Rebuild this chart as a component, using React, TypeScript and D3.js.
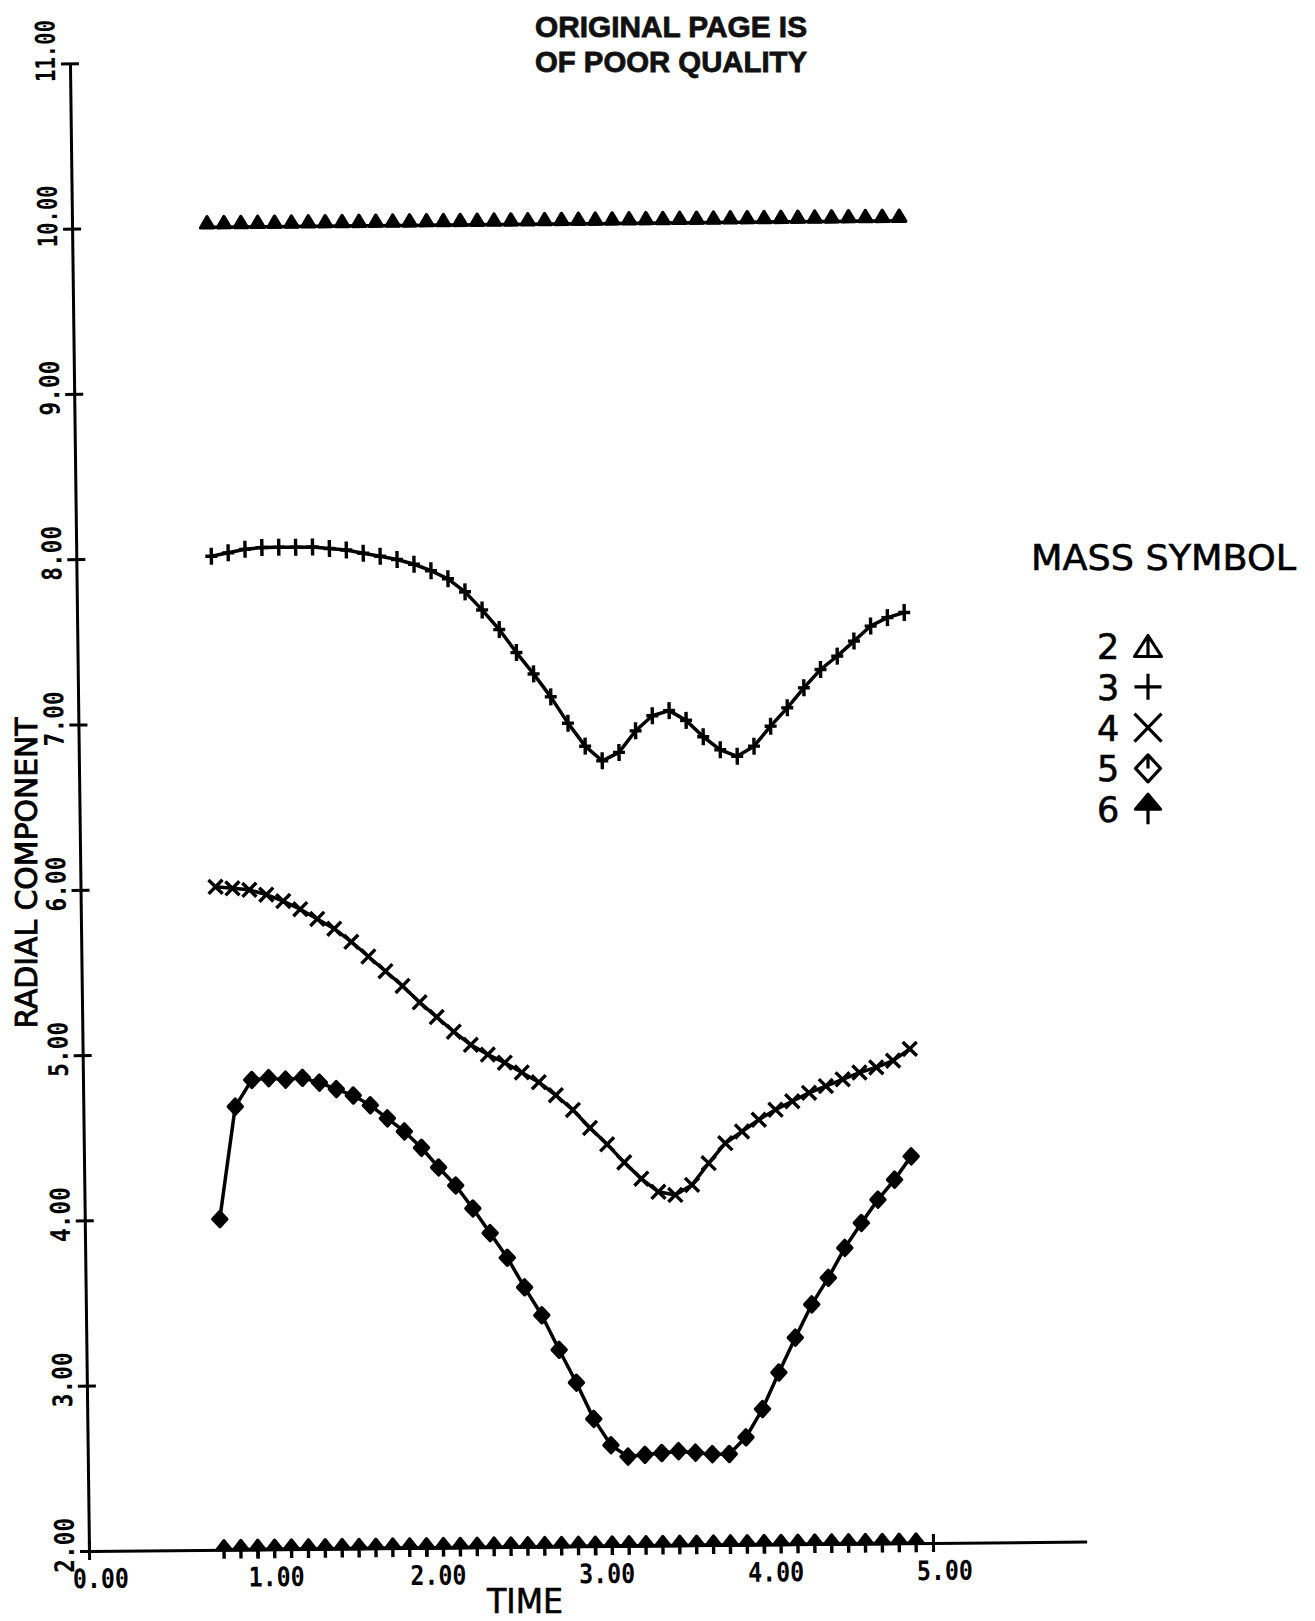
import { useEffect, useRef } from "react";
import * as d3 from "d3";

// sample times (same for every mass)
const times = [
  0.8, 0.9, 1.0, 1.1, 1.2, 1.3, 1.4, 1.5, 1.6, 1.7, 1.8, 1.9, 2.0, 2.1,
  2.2, 2.3, 2.4, 2.5, 2.6, 2.7, 2.8, 2.9, 3.0, 3.1, 3.2, 3.3, 3.4, 3.5,
  3.6, 3.7, 3.8, 3.9, 4.0, 4.1, 4.2, 4.3, 4.4, 4.5, 4.6, 4.7, 4.8, 4.9,
];

// radial component per mass
const mass2 = [
  10.0, 10.0, 10.0, 10.0, 10.0, 10.0, 10.0, 10.0, 10.0, 10.0, 10.0, 10.0, 10.0, 10.0,
  10.0, 10.0, 10.0, 10.0, 10.0, 10.0, 10.0, 10.0, 10.0, 10.0, 10.0, 10.0, 10.0, 10.0,
  10.0, 10.0, 10.0, 10.0, 10.0, 10.0, 10.0, 10.0, 10.0, 10.0, 10.0, 10.0, 10.0, 10.0,
];
const mass3 = [
  8.01, 8.03, 8.05, 8.06, 8.06, 8.06, 8.06, 8.05, 8.04, 8.02, 8.0, 7.98, 7.95, 7.91,
  7.86, 7.78, 7.67, 7.55, 7.41, 7.28, 7.14, 6.98, 6.84, 6.75, 6.8, 6.93, 7.02, 7.05,
  6.99, 6.89, 6.81, 6.77, 6.83, 6.95, 7.06, 7.18, 7.29, 7.37, 7.46, 7.55, 7.6, 7.63,
];
const mass4 = [
  6.01, 6.0, 5.99, 5.96, 5.92, 5.87, 5.81, 5.75, 5.67, 5.58, 5.49, 5.4, 5.3, 5.21,
  5.12, 5.04, 4.98, 4.93, 4.87, 4.81, 4.73, 4.64, 4.53, 4.43, 4.32, 4.22, 4.14, 4.12,
  4.18, 4.31, 4.43, 4.5, 4.57, 4.63, 4.68, 4.73, 4.77, 4.81, 4.85, 4.88, 4.92, 4.99,
];
const mass5 = [
  4.0, 4.68, 4.84, 4.85, 4.84, 4.85, 4.82, 4.78, 4.74, 4.68, 4.6, 4.52, 4.42, 4.3,
  4.19, 4.05, 3.9, 3.75, 3.57, 3.4, 3.19, 2.99, 2.77, 2.61, 2.54, 2.55, 2.56, 2.57,
  2.56, 2.55, 2.55, 2.65, 2.82, 3.04, 3.25, 3.45, 3.61, 3.79, 3.94, 4.08, 4.2, 4.34,
];
const mass6 = [
  2.0, 2.0, 2.0, 2.0, 2.0, 2.0, 2.0, 2.0, 2.0, 2.0, 2.0, 2.0, 2.0, 2.0,
  2.0, 2.0, 2.0, 2.0, 2.0, 2.0, 2.0, 2.0, 2.0, 2.0, 2.0, 2.0, 2.0, 2.0,
  2.0, 2.0, 2.0, 2.0, 2.0, 2.0, 2.0, 2.0, 2.0, 2.0, 2.0, 2.0, 2.0, 2.0,
];

const masses = ["2", "3", "4", "5", "6"];
const symbols = ["tri", "plus", "cross", "diamond", "arrow"];
const xTicks = [0, 1, 2, 3, 4, 5];
const yTicks = [2, 3, 4, 5, 6, 7, 8, 9, 10, 11];
const stamp = ["ORIGINAL PAGE IS", "OF POOR QUALITY"];

const W = 1315;
const H = 1621;
// the scan is slightly skewed: x axis drops ~1%, y axis leans ~1.3%
const FRAME = "matrix(1,-0.0095,0.0128,1,89,1551)";
const PLOTTER = "'DejaVu Sans', sans-serif";
const MONO = "'DejaVu Sans Mono', monospace";

function symbolPath(kind: string, hw: number, hh: number) {
  switch (kind) {
    case "tri":
      return `M0,${-hh}L${hw},${hh}L${-hw},${hh}Z M0,${-hh}V${hh}`;
    case "plus":
      return `M${-hw},0H${hw}M0,${-hh}V${hh}`;
    case "cross":
      return `M${-hw},${-hh}L${hw},${hh}M${-hw},${hh}L${hw},${-hh}`;
    case "diamond":
      return `M0,${-hh}L${hw},0L0,${hh}L${-hw},0Z M0,${-hh}V0`;
    default: // arrow
      return `M0,${-hh}L${hw},0L${-hw},0Z M0,${-hh}V${hh}`;
  }
}

// marker size in the plot: [halfWidth, halfHeight, dy, filled]
const plotMarker: Record<string, [number, number, number, boolean]> = {
  tri: [6.5, 5.5, -5, true],
  plus: [6, 8.5, 0, false],
  cross: [7, 7, 0, false],
  diamond: [7, 7.5, 0, true],
  arrow: [7, 9, 0, true],
};
const legendMarker: Record<string, [number, number, boolean]> = {
  tri: [13.5, 10.5, false],
  plus: [13.5, 13, false],
  cross: [13.5, 14, false],
  diamond: [12.5, 13.5, false],
  arrow: [12.5, 15, true],
};

export default function App() {
  const ref = useRef<SVGSVGElement>(null);

  useEffect(() => {
    const el = ref.current;
    if (!el) return;
    const svg = d3.select(el);
    svg.selectAll("*").remove();

    svg.append("rect").attr("width", W).attr("height", H).attr("fill", "#fff");

    const x = d3.scaleLinear().domain([0, 5.91]).range([0, 5.91 * 168.8]);
    const y = d3.scaleLinear().domain([2, 11]).range([0, -1487.7]);

    const plot = svg.append("g").attr("transform", FRAME);

    // X axis
    plot.append("g")
      .call(d3.axisBottom(x).tickValues(xTicks).tickFormat(d3.format(".2f")).tickSizeOuter(0))
      .call((g) => g.attr("font-family", MONO).attr("font-size", 27).attr("font-weight", "bold"))
      .call((g) => g.select(".domain").attr("stroke", "#000").attr("stroke-width", 3))
      .call((g) => g.selectAll(".tick line").attr("y1", -9).attr("y2", 9).attr("stroke", "#000").attr("stroke-width", 3))
      .call((g) =>
        g.selectAll<SVGTextElement, number>(".tick text")
          .attr("fill", "#000")
          .attr("text-anchor", "start")
          .attr("x", (d) => (d === 1 ? -10 : -17))
          .attr("y", 37)
          .attr("dy", null)
          .attr("textLength", 56)
          .attr("lengthAdjust", "spacingAndGlyphs")
      );

    // Y axis
    plot.append("g")
      .call(d3.axisLeft(y).tickValues(yTicks).tickFormat(d3.format(".2f")).tickSizeOuter(0))
      .call((g) => g.attr("font-family", MONO).attr("font-size", 27).attr("font-weight", "bold"))
      .call((g) => g.select(".domain").attr("stroke", "#000").attr("stroke-width", 3))
      .call((g) => g.selectAll(".tick line").attr("x1", -9).attr("x2", 9).attr("stroke", "#000").attr("stroke-width", 3))
      .call((g) =>
        g.selectAll<SVGTextElement, number>(".tick text")
          .attr("fill", "#000")
          .attr("text-anchor", "start")
          .attr("x", null)
          .attr("dy", null)
          .attr("transform", (d) => `translate(-15,${d >= 10 ? 18 : 21}) rotate(-90)`)
          .attr("textLength", (d) => (d >= 10 ? 62 : 55))
          .attr("lengthAdjust", "spacingAndGlyphs")
      );

    // Curves with their symbols
    const series = [mass2, mass3, mass4, mass5, mass6].map((vals, i) => ({
      kind: symbols[i],
      pts: times.map((t, j) => [t, vals[j]] as [number, number]),
    }));

    const line = d3.line<[number, number]>().x((d) => x(d[0])).y((d) => y(d[1]));

    series.forEach((s) => {
      plot.append("path")
        .attr("d", line(s.pts))
        .attr("fill", "none")
        .attr("stroke", "#000")
        .attr("stroke-width", 3.5)
        .attr("stroke-linejoin", "round");

      const [hw, hh, dy, filled] = plotMarker[s.kind];
      plot.append("g").selectAll("path")
        .data(s.pts).join("path")
        .attr("transform", (d) => `translate(${x(d[0])},${y(d[1]) + dy})`)
        .attr("d", symbolPath(s.kind, hw, hh))
        .attr("fill", filled ? "#000" : "none")
        .attr("stroke", "#000")
        .attr("stroke-width", 3.4)
        .attr("stroke-linejoin", "round");
    });

    // Axis titles (plotter lettering, a little heavier than the font)
    svg.append("text")
      .attr("transform", "translate(37,873) rotate(-90)")
      .attr("text-anchor", "middle")
      .attr("font-family", PLOTTER).attr("font-size", 30)
      .attr("stroke", "#000").attr("stroke-width", 0.9)
      .attr("textLength", 311).attr("lengthAdjust", "spacingAndGlyphs")
      .text("RADIAL COMPONENT");

    svg.append("text")
      .attr("x", 487).attr("y", 1613)
      .attr("font-family", PLOTTER).attr("font-size", 33)
      .attr("stroke", "#000").attr("stroke-width", 0.6)
      .attr("textLength", 76).attr("lengthAdjust", "spacingAndGlyphs")
      .text("TIME");

    // Legend
    svg.append("text")
      .attr("x", 1031).attr("y", 570)
      .attr("font-family", PLOTTER).attr("font-size", 35)
      .attr("stroke", "#000").attr("stroke-width", 0.6)
      .attr("textLength", 265).attr("lengthAdjust", "spacingAndGlyphs")
      .text("MASS SYMBOL");

    const leg = svg.append("g");
    masses.forEach((m, i) => {
      const cy = 646 + i * 40.8;
      leg.append("text")
        .attr("x", 1097).attr("y", cy + 13)
        .attr("font-family", PLOTTER).attr("font-size", 35)
        .attr("stroke", "#000").attr("stroke-width", 0.6)
        .text(m);
      const [hw, hh, filled] = legendMarker[symbols[i]];
      leg.append("path")
        .attr("transform", `translate(1148,${cy})`)
        .attr("d", symbolPath(symbols[i], hw, hh))
        .attr("fill", filled ? "#000" : "none")
        .attr("stroke", "#000")
        .attr("stroke-width", 3.2)
        .attr("stroke-linejoin", "round");
    });

    // archive stamp
    stamp.forEach((s, i) => {
      svg.append("text")
        .attr("x", 535).attr("y", 37 + i * 35)
        .attr("font-family", "'Liberation Sans', Arial, sans-serif")
        .attr("font-weight", "bold").attr("font-size", 29)
        .attr("fill", "#111").attr("stroke", "#111").attr("stroke-width", 0.8)
        .attr("textLength", 272).attr("lengthAdjust", "spacingAndGlyphs")
        .text(s);
    });
  }, []);

  return (
    <div style={{ position: "absolute", left: 0, top: 0, width: W, height: H, background: "#fff" }}>
      <svg ref={ref} width={W} height={H} style={{ display: "block" }} />
    </div>
  );
}
